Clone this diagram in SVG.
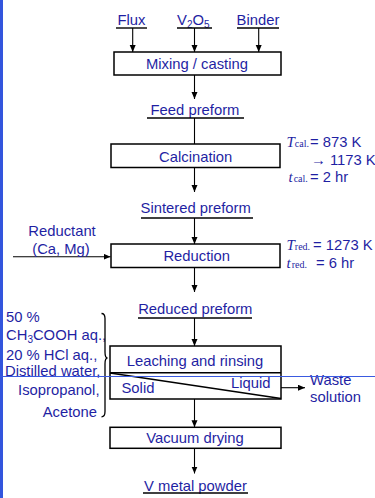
<svg xmlns="http://www.w3.org/2000/svg" width="375" height="498" viewBox="0 0 375 498">
<defs>
<marker id="ah" markerUnits="userSpaceOnUse" markerWidth="8" markerHeight="7" refX="7" refY="3" orient="auto">
<path d="M0,0 L7,3 L0,6 z" fill="#000"/>
</marker>
<style>
.t{font-family:"Liberation Sans",Arial,sans-serif;font-size:14.8px;fill:#1f1fa3}
.m{text-anchor:middle}
.e{text-anchor:end}
.box{fill:#fff;stroke:#000;stroke-width:1.5}
.c{stroke:#000;stroke-width:1.1;fill:none}
.a{marker-end:url(#ah)}
.u{stroke:#000;stroke-width:1.4}
.it{font-family:"Liberation Serif","Times New Roman",serif;font-style:italic;font-size:15px;fill:#1f1fa3}
.sb{font-family:"Liberation Serif","Times New Roman",serif;font-size:10px;fill:#1f1fa3}
</style>
</defs>
<rect x="0" y="0" width="375" height="498" fill="#fff"/>
<rect x="0" y="0" width="3" height="498" fill="#3355dd"/>

<g id="connectors">
<line class="c a" x1="132.7" y1="28" x2="132.7" y2="52"/>
<line class="c a" x1="194.5" y1="28" x2="194.5" y2="52"/>
<line class="c a" x1="258.7" y1="28" x2="258.7" y2="52"/>
<line class="c a" x1="194.5" y1="75" x2="194.5" y2="99"/>
<line class="c" x1="194.5" y1="118" x2="194.5" y2="144"/>
<line class="c a" x1="194.5" y1="167.5" x2="194.5" y2="192"/>
<line class="c a" x1="194.5" y1="218" x2="194.5" y2="244"/>
<line class="c a" x1="13" y1="256.7" x2="110.5" y2="256.7"/>
<line class="c a" x1="194.5" y1="267.5" x2="194.5" y2="292"/>
<line class="c a" x1="194.5" y1="318" x2="194.5" y2="346"/>
<line class="c a" x1="281" y1="387.7" x2="305" y2="387.7"/>
<line class="c a" x1="194.5" y1="399" x2="194.5" y2="427.3"/>
<line class="c a" x1="194.5" y1="448.3" x2="194.5" y2="473.5"/>
</g>

<g id="flux">
<text class="t m" x="131.5" y="24.5">Flux</text>
<line class="u" x1="116" y1="28" x2="147" y2="28"/>
</g>
<g id="v2o5">
<text class="t" x="177" y="24.5">V<tspan font-size="10" dy="3">2</tspan><tspan dy="-3">O</tspan><tspan font-size="10" dy="3">5</tspan></text>
<line class="u" x1="177" y1="28" x2="212" y2="28"/>
</g>
<g id="binder">
<text class="t m" x="258" y="24.5">Binder</text>
<line class="u" x1="237" y1="28" x2="279" y2="28"/>
</g>

<g id="mixing">
<rect class="box" x="114" y="52" width="167" height="23"/>
<text class="t m" x="197" y="69">Mixing / casting</text>
</g>

<g id="feed">
<text class="t m" x="195" y="114.5">Feed preform</text>
<line class="u" x1="147" y1="118" x2="244" y2="118"/>
</g>

<g id="calcination">
<rect class="box" x="111" y="144" width="169" height="23.5"/>
<text class="t m" x="195.7" y="162">Calcination</text>
</g>

<g id="cal-cond">
<text x="286.5" y="146.7"><tspan class="it">T</tspan><tspan class="sb">cal.</tspan></text>
<text class="t" x="310" y="146.7">= 873 K</text>
<text class="t" x="311" y="164.5">→ 1173 K</text>
<text x="288.5" y="182.3"><tspan class="it">t</tspan><tspan class="sb" dx="1">cal.</tspan></text>
<text class="t" x="310" y="182.3">= 2 hr</text>
</g>

<g id="sintered">
<text class="t m" x="195.7" y="213">Sintered preform</text>
<line class="u" x1="141" y1="218" x2="253" y2="218"/>
</g>

<g id="reductant">
<text class="t m" x="62" y="236">Reductant</text>
<text class="t m" x="61" y="254">(Ca, Mg)</text>
</g>

<g id="reduction">
<rect class="box" x="111" y="244" width="169" height="23.5"/>
<text class="t m" x="196.7" y="261.3">Reduction</text>
</g>

<g id="red-cond">
<text x="286.5" y="250"><tspan class="it">T</tspan><tspan class="sb">red.</tspan></text>
<text class="t" x="313" y="250">= 1273 K</text>
<text x="286.5" y="268.3"><tspan class="it">t</tspan><tspan class="sb" dx="1">red.</tspan></text>
<text class="t" x="316" y="268.3">= 6 hr</text>
</g>

<g id="reduced">
<text class="t m" x="195.3" y="314">Reduced preform</text>
<line class="u" x1="138" y1="318" x2="252" y2="318"/>
</g>

<g id="reagents">
<text class="t" x="6" y="321.5">50 %</text>
<text class="t" x="6" y="339.5">CH<tspan font-size="10" dy="3">3</tspan><tspan dy="-3">COOH aq.,</tspan></text>
<text class="t" x="6" y="359.5">20 % HCl aq.,</text>
<text class="t" x="5" y="375.5">Distilled water,</text>
<text class="t e" x="99.5" y="395">Isopropanol,</text>
<text class="t e" x="97" y="416.5">Acetone</text>
<path d="M101.5,313.5 Q105,313.5 105,318.5 L105,352 Q105,358 107.5,358 Q105,358 105,364 L105,411.5 Q105,416.8 101.5,416.8" fill="none" stroke="#000" stroke-width="1.3"/>
</g>

<g id="leaching">
<rect class="box" x="110" y="346" width="171" height="53"/>
<line stroke="#000" stroke-width="1.5" x1="110" y1="372.7" x2="281" y2="372.7"/>
<line stroke="#000" stroke-width="1.5" x1="110" y1="373" x2="281" y2="398.5"/>
<text class="t m" x="195" y="365.5">Leaching and rinsing</text>
<text class="t" x="121.5" y="393.3">Solid</text>
<text class="t" x="231" y="388">Liquid</text>
</g>

<g id="waste">
<text class="t" x="310" y="384.6">Waste</text>
<text class="t" x="310" y="401.6">solution</text>
</g>

<line x1="0" y1="376.5" x2="375" y2="376.5" stroke="#3a5ae0" stroke-width="1"/>

<g id="drying">
<rect class="box" x="110" y="427.3" width="171" height="21"/>
<text class="t m" x="195" y="443.3">Vacuum drying</text>
</g>

<g id="powder">
<text class="t m" x="195.5" y="490.5">V metal powder</text>
<line class="u" x1="143" y1="493" x2="248" y2="493"/>
</g>
</svg>
